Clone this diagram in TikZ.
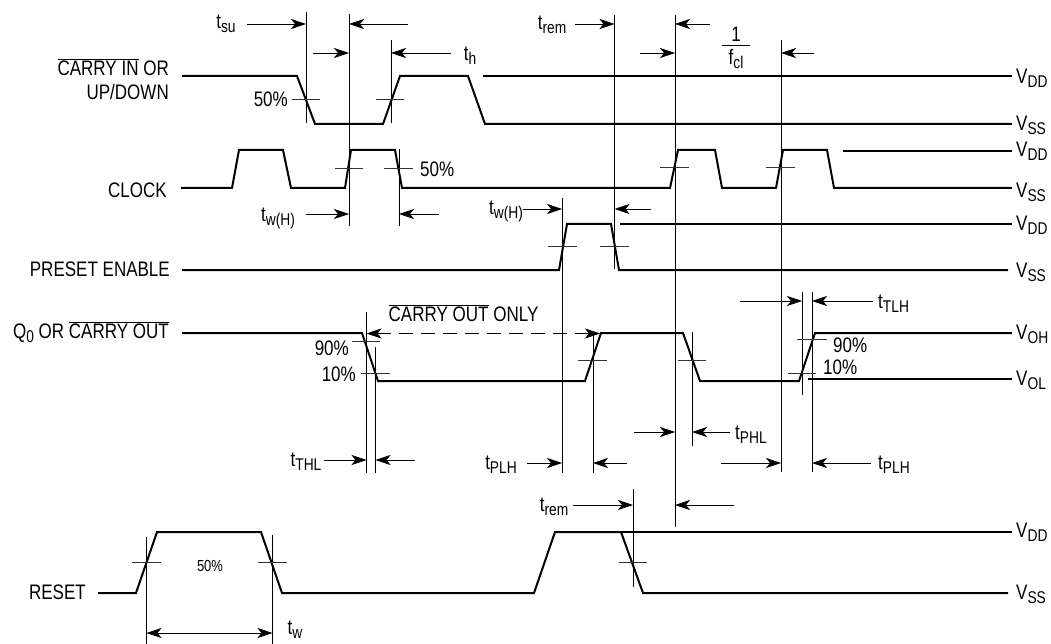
\documentclass[tikz,border=0pt]{standalone}
\usepackage{fontspec}
\setmainfont[FakeStretch=0.81]{Liberation Sans}
\usetikzlibrary{arrows.meta}
\newcommand{\tsub}[2]{#1\raisebox{-4pt}{\fontsize{17}{18}\selectfont #2}}
\newcommand{\barred}[1]{$\overline{\mbox{#1}}$}
\begin{document}
\begin{tikzpicture}[
        x=1pt, y=-1pt,
        wave/.style={line width=2pt, line join=miter},
        guide/.style={line width=0.7pt},
        tickmark/.style={line width=0.7pt, black!80},
        meas/.style={line width=0.7pt, -{Stealth[length=15pt,width=10pt,inset=4pt]}},
        bothmeas/.style={line width=0.7pt, {Stealth[length=15pt,width=10pt,inset=4pt]}-{Stealth[length=15pt,width=10pt,inset=4pt]}},
        dashedmeas/.style={line width=0.7pt, dash pattern=on 14pt off 8pt, {Stealth[length=15pt,width=10pt,inset=4pt]}-{Stealth[length=15pt,width=10pt,inset=4pt]}},
        label/.style={font=\fontsize{21}{22}\selectfont, inner sep=0pt},
        rail/.style={label, anchor=west}
      ]
      \useasboundingbox (0,0) rectangle (1051,644);

% Waveforms
      \draw[wave] (182,76) -- (297,76) -- (315,124) -- (383,124) -- (400,76) -- (468,76) -- (485,124) -- (1012,124);
      \draw[wave] (483,76) -- (1012,76);
      \draw[wave] (181,188) -- (232,188) -- (239,150) -- (283,150) -- (291,188) -- (345,188) -- (351,150) -- (395,150) -- (402,188) -- (670,188) -- (678,150) -- (715,150) -- (722,188) -- (776,188) -- (783,150) -- (827,150) -- (834,188) -- (1012,188);
      \draw[wave] (843,151) -- (1012,151);
      \draw[wave] (182,270) -- (559,270) -- (567,224) -- (611,224) -- (619,270) -- (1008,270);
      \draw[wave] (620,224) -- (1012,224);
      \draw[wave] (182,333) -- (362,333) -- (378,381) -- (585,381) -- (601,333) -- (683,333) -- (700,381) -- (799,381) -- (815,333) -- (1012,333);
      \draw[wave] (808,379) -- (1012,379);
      \draw[wave] (98,593) -- (136,593) -- (157,532) -- (261,532) -- (282,593) -- (534,593) -- (555,532) -- (621,532) -- (643,593) -- (1008,593);
      \draw[wave] (621,532) -- (1012,532);

% Vertical guides
      \draw[guide] (306,12) -- (306,123);
      \draw[guide] (349,14) -- (349,226);
      \draw[guide] (391,40) -- (391,123);
      \draw[guide] (399,149) -- (399,226);
      \draw[guide] (366.5,312) -- (366.5,473);
      \draw[guide] (375.5,347) -- (375.5,473);
      \draw[guide] (562,198) -- (562,473);
      \draw[guide] (593,333) -- (593,473);
      \draw[guide] (614.5,15) -- (614.5,269);
      \draw[guide] (675,15) -- (675,527);
      \draw[guide] (633,489) -- (633,587);
      \draw[guide] (692,332) -- (692,446);
      \draw[guide] (781,40) -- (781,472);
      \draw[guide] (802,292) -- (802,395);
      \draw[guide] (812,292) -- (812,472);
      \draw[guide] (146.5,537) -- (146.5,644);
      \draw[guide] (272.5,535) -- (272.5,644);

% Level ticks
      \draw[tickmark] (292,99) -- (320,99);
      \draw[tickmark] (376,99) -- (404,99);
      \draw[tickmark] (335,168) -- (363,168);
      \draw[tickmark] (384,168) -- (413,168);
      \draw[tickmark] (660,167) -- (689,167);
      \draw[tickmark] (766,167) -- (795,167);
      \draw[tickmark] (548,246) -- (577,246);
      \draw[tickmark] (600,246) -- (629,246);
      \draw[tickmark] (352,341) -- (380,341);
      \draw[tickmark] (361,373) -- (390,373);
      \draw[tickmark] (578,360) -- (607,360);
      \draw[tickmark] (678,360) -- (706,360);
      \draw[tickmark] (797,339) -- (827,339);
      \draw[tickmark] (788,373) -- (816,373);
      \draw[tickmark] (132,562) -- (161,562);
      \draw[tickmark] (258,562) -- (287,562);
      \draw[tickmark] (619,562) -- (647,562);

% Timing arrows
      \draw[meas] (247,24) -- (306,24);
      \draw[meas] (408,24) -- (349,24);
      \draw[meas] (313,53) -- (349,53);
      \draw[meas] (451,53) -- (391,53);
      \draw[meas] (306,214) -- (349,214);
      \draw[meas] (439,214) -- (399,214);
      \draw[meas] (575,24) -- (614.5,24);
      \draw[meas] (710,24) -- (675,24);
      \draw[meas] (640,53) -- (675,53);
      \draw[meas] (814,53) -- (781,53);
      \draw[meas] (523,209) -- (562,209);
      \draw[meas] (651,209) -- (614.5,209);
      \draw[meas] (324,460) -- (366.5,460);
      \draw[meas] (415,460) -- (375.5,460);
      \draw[meas] (527,463) -- (562,463);
      \draw[meas] (627,463) -- (593,463);
      \draw[meas] (634,432) -- (675,432);
      \draw[meas] (730,432) -- (692,432);
      \draw[meas] (721,463) -- (781,463);
      \draw[meas] (871,463) -- (812,463);
      \draw[meas] (740,301) -- (802,301);
      \draw[meas] (873,301) -- (812,301);
      \draw[meas] (573,505) -- (633,505);
      \draw[meas] (734,505) -- (675,505);
      \draw[dashedmeas] (366.5,333.5) -- (600,333.5);
      \draw[bothmeas] (146.5,633) -- (272.5,633);
      \draw[line width=0.8pt] (722,45) -- (750,45);

% Signal names
      \node[label, anchor=east, align=right] (carryin) at (169,79) {\barred{CARRY IN} OR\\[2pt]UP/DOWN};
      \node[label, anchor=east] (clock) at (167,190) {CLOCK};
      \node[label, anchor=east] (preset) at (170,269) {PRESET ENABLE};
      \node[label, anchor=east] (qzero) at (169,332) {\tsub{Q}{0} OR \barred{CARRY OUT}};
      \node[label, anchor=east] (reset) at (86,592) {RESET};

% Supply levels
      \node[rail] (vdda) at (1016,78) {\tsub{V}{DD}};
      \node[rail] (vssa) at (1016,125) {\tsub{V}{SS}};
      \node[rail] (vddb) at (1016,151) {\tsub{V}{DD}};
      \node[rail] (vssb) at (1016,192) {\tsub{V}{SS}};
      \node[rail] (vddc) at (1016,225) {\tsub{V}{DD}};
      \node[rail] (vssc) at (1016,272) {\tsub{V}{SS}};
      \node[rail] (voh) at (1016,334) {\tsub{V}{OH}};
      \node[rail] (vol) at (1016,380) {\tsub{V}{OL}};
      \node[rail] (vddd) at (1016,532) {\tsub{V}{DD}};
      \node[rail] (vssd) at (1016,594) {\tsub{V}{SS}};

% Timing labels
      \node[label] (tsu) at (226,24) {\tsub{t}{su}};
      \node[label] (thold) at (470,56) {\tsub{t}{h}};
      \node[label] (twha) at (278,218) {\tsub{t}{w(H)}};
      \node[label] (twhb) at (506,211) {\tsub{t}{w(H)}};
      \node[label] (trema) at (552,25) {\tsub{t}{rem}};
      \node[label] (tremb) at (554,507) {\tsub{t}{rem}};
      \node[label] (one) at (736,34) {1};
      \node[label] (fcl) at (736,59) {\tsub{f}{cl}};
      \node[label] (tthl) at (306,462) {\tsub{t}{THL}};
      \node[label] (tplha) at (501,465) {\tsub{t}{PLH}};
      \node[label, anchor=west] (tphl) at (735,435) {\tsub{t}{PHL}};
      \node[label, anchor=west] (tplhb) at (878,465) {\tsub{t}{PLH}};
      \node[label, anchor=west] (ttlh) at (878,304) {\tsub{t}{TLH}};
      \node[label] (tw) at (295,630) {\tsub{t}{w}};

% Level percentages
      \node[label, anchor=east] (pcta) at (288,99) {50\%};
      \node[label, anchor=west] (pctb) at (420,169) {50\%};
      \node[label, anchor=east] (pctc) at (349,348) {90\%};
      \node[label, anchor=east] (pctd) at (356,374) {10\%};
      \node[label, anchor=west] (pcte) at (833,345) {90\%};
      \node[label, anchor=west] (pctf) at (823,367) {10\%};
      \node[label, font=\fontsize{16}{17}\selectfont] (pctg) at (210,566) {50\%};
      \node[label, anchor=west] (onlylabel) at (388.5,313) {\barred{CARRY OUT} ONLY};

      \end{tikzpicture}
\end{document}
